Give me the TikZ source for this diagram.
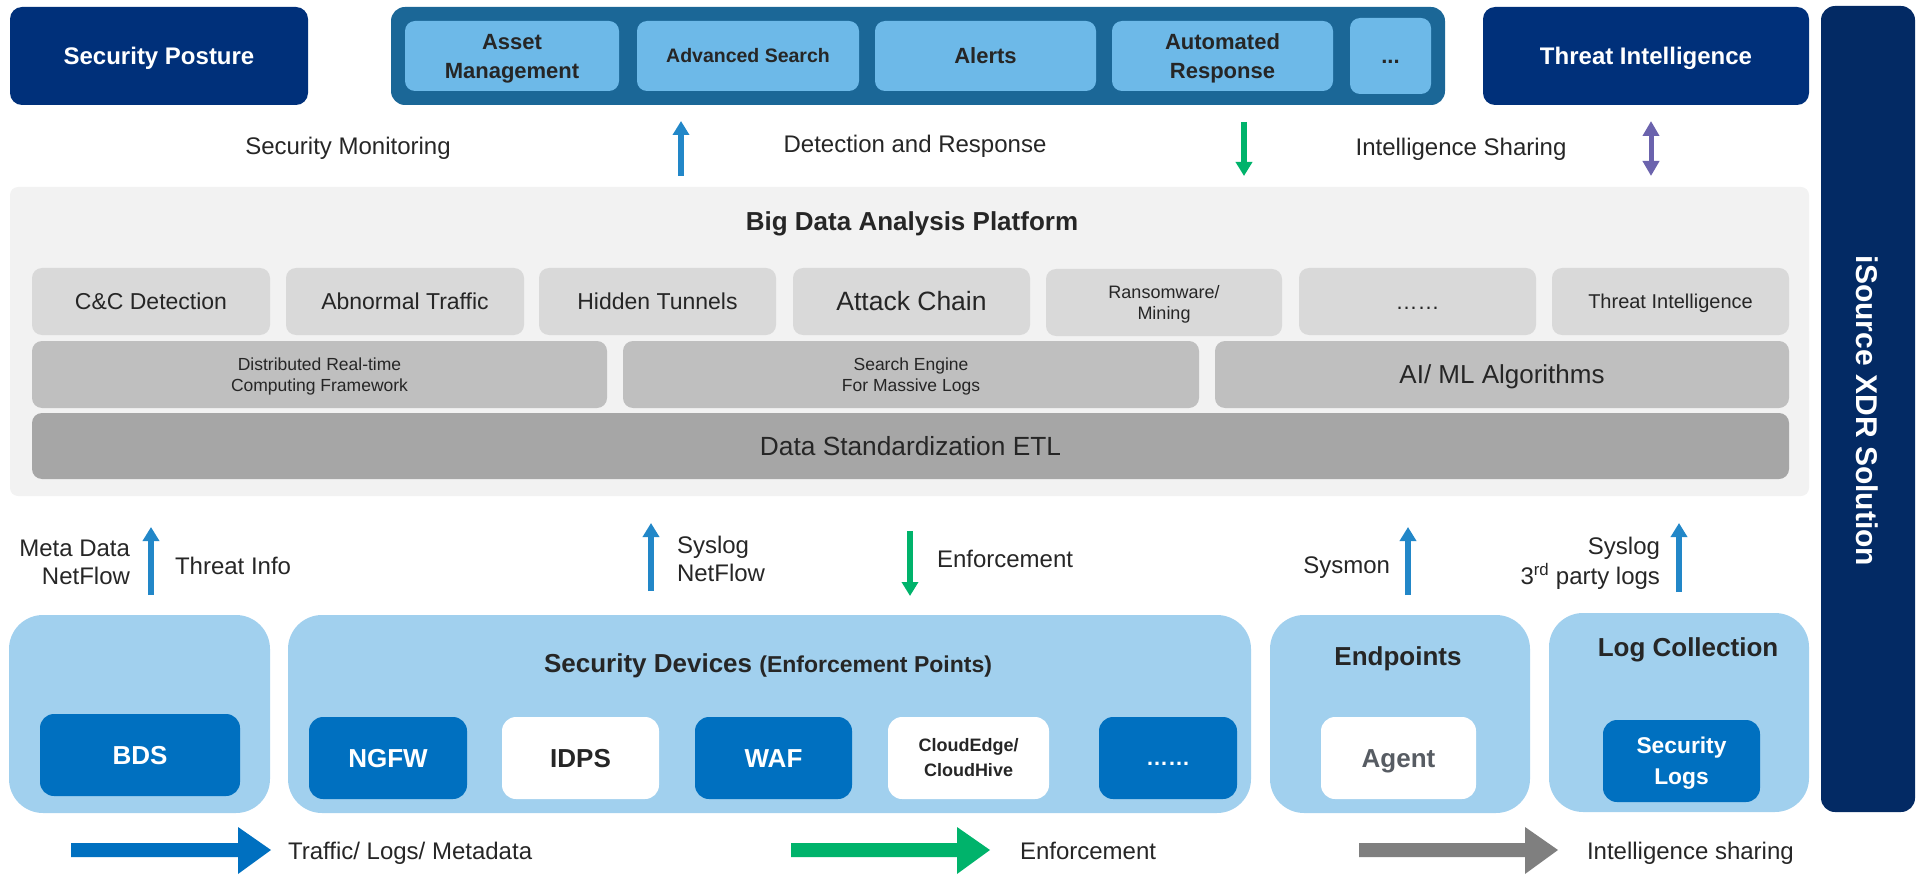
\documentclass[tikz,border=0pt]{standalone}
\usepackage{fontspec}
\setmainfont{Liberation Sans}
\usetikzlibrary{arrows.meta}
\definecolor{navy}{HTML}{00307A}
\definecolor{barnavy}{HTML}{032A64}
\definecolor{steel}{HTML}{1B6797}
\definecolor{sky}{HTML}{6DB9E8}
\definecolor{panelgray}{HTML}{F2F2F2}
\definecolor{rowa}{HTML}{D9D9D9}
\definecolor{rowb}{HTML}{BFBFBF}
\definecolor{rowc}{HTML}{A6A6A6}
\definecolor{lblue}{HTML}{A1D0EE}
\definecolor{dblue}{HTML}{0070C0}
\definecolor{txt}{HTML}{262626}
\definecolor{agentgray}{HTML}{575C63}
\definecolor{arrblue}{HTML}{2287C8}
\definecolor{arrgreen}{HTML}{00B36B}
\definecolor{arrpurple}{HTML}{6B63AD}
\definecolor{leggray}{HTML}{7F7F7F}
\newcommand\myfs[2]{\fontsize{#1}{#2}\selectfont}
% text block whose first baseline sits 0.35em below the node centre (like slide software)
\newcommand\tx[2][c]{\raisebox{\dimexpr 0.2\baselineskip-0.35em\relax}[\height][\depth]{\begin{tabular}{@{}#1@{}}#2\end{tabular}}}
\begin{document}
\begin{tikzpicture}[x=1pt,y=-1pt,
  every node/.style={inner sep=0pt,outer sep=0pt},
  topbox/.style={fill=navy,rounded corners=12pt,text=white,font=\bfseries\myfs{24}{29}},
  item/.style={fill=sky,rounded corners=10pt,text=txt,font=\bfseries\myfs{22}{29}},
  lbl/.style={text=txt,font=\myfs{24}{28}},
  rowbox/.style={rounded corners=10pt,text=txt},
  grp/.style={fill=lblue,rounded corners=34pt},
  grptitle/.style={text=txt,font=\bfseries\myfs{26}{30}},
  dev/.style={rounded corners=14pt,font=\bfseries\myfs{26}{30}},
  flow/.style={line width=5.5pt,-{Triangle[length=14pt,width=16pt]}},
  flow2/.style={line width=5pt,{Triangle[length=15pt,width=16pt]}-{Triangle[length=15pt,width=16pt]}},
  legtxt/.style={text=txt,font=\myfs{24}{28},anchor=west}
]
\useasboundingbox (0,0) rectangle (1927,877);

% ---------- top row ----------
\node[topbox,minimum width=298pt,minimum height=98pt] (secpost) at (159,56) {\tx{Security Posture}};
\node[fill=steel,rounded corners=14pt,minimum width=1054pt,minimum height=98pt] (toolbar) at (918,56) {};
\node[item,minimum width=214pt,minimum height=70pt] (asset) at (512,56) {\tx{Asset\\Management}};
\node[item,minimum width=222pt,minimum height=70pt,font=\bfseries\myfs{19.5}{24}] (search) at (748,56) {\tx{Advanced Search}};
\node[item,minimum width=221pt,minimum height=70pt] (alerts) at (985.5,56) {\tx{Alerts}};
\node[item,minimum width=221pt,minimum height=70pt] (autoresp) at (1222.5,56) {\tx{Automated\\Response}};
\node[item,minimum width=81pt,minimum height=76pt] (tbdots) at (1390.5,56) {\tx{...}};
\node[topbox,minimum width=326pt,minimum height=98pt] (threatint) at (1646,56) {\tx{Threat Intelligence}};
\node[fill=barnavy,rounded corners=14pt,minimum width=94pt,minimum height=806pt] (xdr) at (1868,409) {};
\node[text=white,font=\bfseries\myfs{30}{36},rotate=-90] (xdrtxt) at (1867,411) {\tx{iSource XDR Solution}};

% ---------- labels between top and platform ----------
\node[lbl] (secmon) at (348,146) {\tx{Security Monitoring}};
\node[lbl] (detresp) at (915,144) {\tx{Detection and Response}};
\node[lbl] (intshare) at (1461,147) {\tx{Intelligence Sharing}};
\coordinate (a1s) at (681,176); \coordinate (a1e) at (681,121);
\coordinate (a2s) at (1244,122); \coordinate (a2e) at (1244,176);
\coordinate (a3s) at (1651,121); \coordinate (a3e) at (1651,176);
\draw[flow,arrblue] (a1s) -- (a1e);
\draw[flow,arrgreen] (a2s) -- (a2e);
\draw[flow2,arrpurple] (a3s) -- (a3e);

% ---------- big data platform ----------
\node[fill=panelgray,rounded corners=8pt,minimum width=1799pt,minimum height=309pt] (panel) at (909.5,341.5) {};
\node[text=txt,font=\bfseries\myfs{26}{30}] (ptitle) at (912,221) {\tx{Big Data Analysis Platform}};

\node[rowbox,fill=rowa,minimum width=238pt,minimum height=67pt,font=\myfs{23}{28}] (cc) at (151,301.5) {\tx{C\&C Detection}};
\node[rowbox,fill=rowa,minimum width=238pt,minimum height=67pt,font=\myfs{23}{28}] (abn) at (405,301.5) {\tx{Abnormal Traffic}};
\node[rowbox,fill=rowa,minimum width=237pt,minimum height=67pt,font=\myfs{23}{28}] (hid) at (657.5,301.5) {\tx{Hidden Tunnels}};
\node[rowbox,fill=rowa,minimum width=237pt,minimum height=67pt,font=\myfs{26.5}{30}] (att) at (911.5,301.5) {\tx{Attack Chain}};
\node[rowbox,fill=rowa,minimum width=236pt,minimum height=67pt,font=\myfs{18}{21}] (ran) at (1164,302.5) {\tx{Ransomware/\\Mining}};
\node[rowbox,fill=rowa,minimum width=237pt,minimum height=67pt,font=\myfs{22}{26}] (rdots) at (1417.5,301.5) {\tx{……}};
\node[rowbox,fill=rowa,minimum width=237pt,minimum height=67pt,font=\myfs{20}{24}] (rthr) at (1670.5,301.5) {\tx{Threat Intelligence}};

\node[rowbox,fill=rowb,minimum width=575pt,minimum height=67pt,font=\myfs{17.5}{21}] (dist) at (319.5,374.5) {\tx{Distributed Real-time\\Computing Framework}};
\node[rowbox,fill=rowb,minimum width=576pt,minimum height=67pt,font=\myfs{17.5}{21}] (seng) at (911,374.5) {\tx{Search Engine\\For Massive Logs}};
\node[rowbox,fill=rowb,minimum width=574pt,minimum height=67pt,font=\myfs{26}{30}] (aiml) at (1502,374.5) {\tx{AI/ ML Algorithms}};

\node[rowbox,fill=rowc,minimum width=1757pt,minimum height=66pt,font=\myfs{26.3}{30}] (etl) at (910.5,446) {\tx{Data Standardization ETL}};

% ---------- labels between platform and devices ----------
\coordinate (b1s) at (151,595); \coordinate (b1e) at (151,527);
\coordinate (b2s) at (651,591); \coordinate (b2e) at (651,523);
\coordinate (b3s) at (910,531); \coordinate (b3e) at (910,596);
\coordinate (b4s) at (1408,595); \coordinate (b4e) at (1408,527);
\coordinate (b5s) at (1679,592); \coordinate (b5e) at (1679,523);
\draw[flow,arrblue] (b1s) -- (b1e);
\draw[flow,arrblue] (b2s) -- (b2e);
\draw[flow,arrgreen] (b3s) -- (b3e);
\draw[flow,arrblue] (b4s) -- (b4e);
\draw[flow,arrblue] (b5s) -- (b5e);
\node[lbl,anchor=east] (meta) at (130,562) {\tx[r]{Meta Data\\NetFlow}};
\node[lbl,anchor=west] (thrinfo) at (175,566) {\tx{Threat Info}};
\node[lbl,anchor=west] (syslog1) at (677,559) {\tx[l]{Syslog\\NetFlow}};
\node[lbl,anchor=west] (enf) at (937,559) {\tx{Enforcement}};
\node[lbl,anchor=east] (sysmon) at (1390,565) {\tx{Sysmon}};
\node[lbl,anchor=east] (syslog2) at (1660,561) {\tx[r]{Syslog\\3\textsuperscript{rd} party logs}};

% ---------- bottom groups ----------
\node[grp,minimum width=261pt,minimum height=198pt] (bdsgrp) at (139.5,714) {};
\node[dev,fill=dblue,text=white,minimum width=200pt,minimum height=82pt] (bds) at (140,755) {\tx{BDS}};

\node[grp,minimum width=963pt,minimum height=198pt] (secgrp) at (769.5,714) {};
\node[grptitle] (sectitle) at (768,663) {\tx{Security Devices {\myfs{23}{30}(Enforcement Points)}}};
\node[dev,fill=dblue,text=white,minimum width=158pt,minimum height=82pt] (ngfw) at (388,758) {\tx{NGFW}};
\node[dev,fill=white,text=txt,minimum width=157pt,minimum height=82pt] (idps) at (580.5,758) {\tx{IDPS}};
\node[dev,fill=dblue,text=white,minimum width=157pt,minimum height=82pt] (waf) at (773.5,758) {\tx{WAF}};
\node[dev,fill=white,text=txt,minimum width=161pt,minimum height=82pt,font=\bfseries\myfs{18}{25}] (cloud) at (968.5,758) {\tx{CloudEdge/\\CloudHive}};
\node[dev,fill=dblue,text=white,minimum width=138pt,minimum height=82pt,font=\bfseries\myfs{22}{26}] (devmore) at (1168,758) {\tx{……}};

\node[grp,minimum width=260pt,minimum height=198pt] (endgrp) at (1400,714) {};
\node[grptitle] (endtitle) at (1398,656) {\tx{Endpoints}};
\node[dev,fill=white,text=agentgray,minimum width=155pt,minimum height=82pt] (agent) at (1398.5,758) {\tx{Agent}};

\node[grp,minimum width=260pt,minimum height=199pt] (loggrp) at (1679,712.5) {};
\node[grptitle] (logtitle) at (1688,647) {\tx{Log Collection}};
\node[dev,fill=dblue,text=white,minimum width=157pt,minimum height=82pt,font=\bfseries\myfs{22.8}{31}] (seclogs) at (1681.5,761) {\tx{Security\\Logs}};

% ---------- legend ----------
\fill[dblue] (71,843) -- (238,843) -- (238,827) -- (271,850) -- (238,874) -- (238,857) -- (71,857) -- cycle;
\node[legtxt] (leg1) at (288,851) {\tx{Traffic/ Logs/ Metadata}};
\fill[arrgreen] (791,843) -- (957,843) -- (957,827) -- (990,850) -- (957,874) -- (957,857) -- (791,857) -- cycle;
\node[legtxt] (leg2) at (1020,851) {\tx{Enforcement}};
\fill[leggray] (1359,843) -- (1525,843) -- (1525,827) -- (1558,850) -- (1525,874) -- (1525,857) -- (1359,857) -- cycle;
\node[legtxt] (leg3) at (1587,851) {\tx{Intelligence sharing}};
\end{tikzpicture}
\end{document}
